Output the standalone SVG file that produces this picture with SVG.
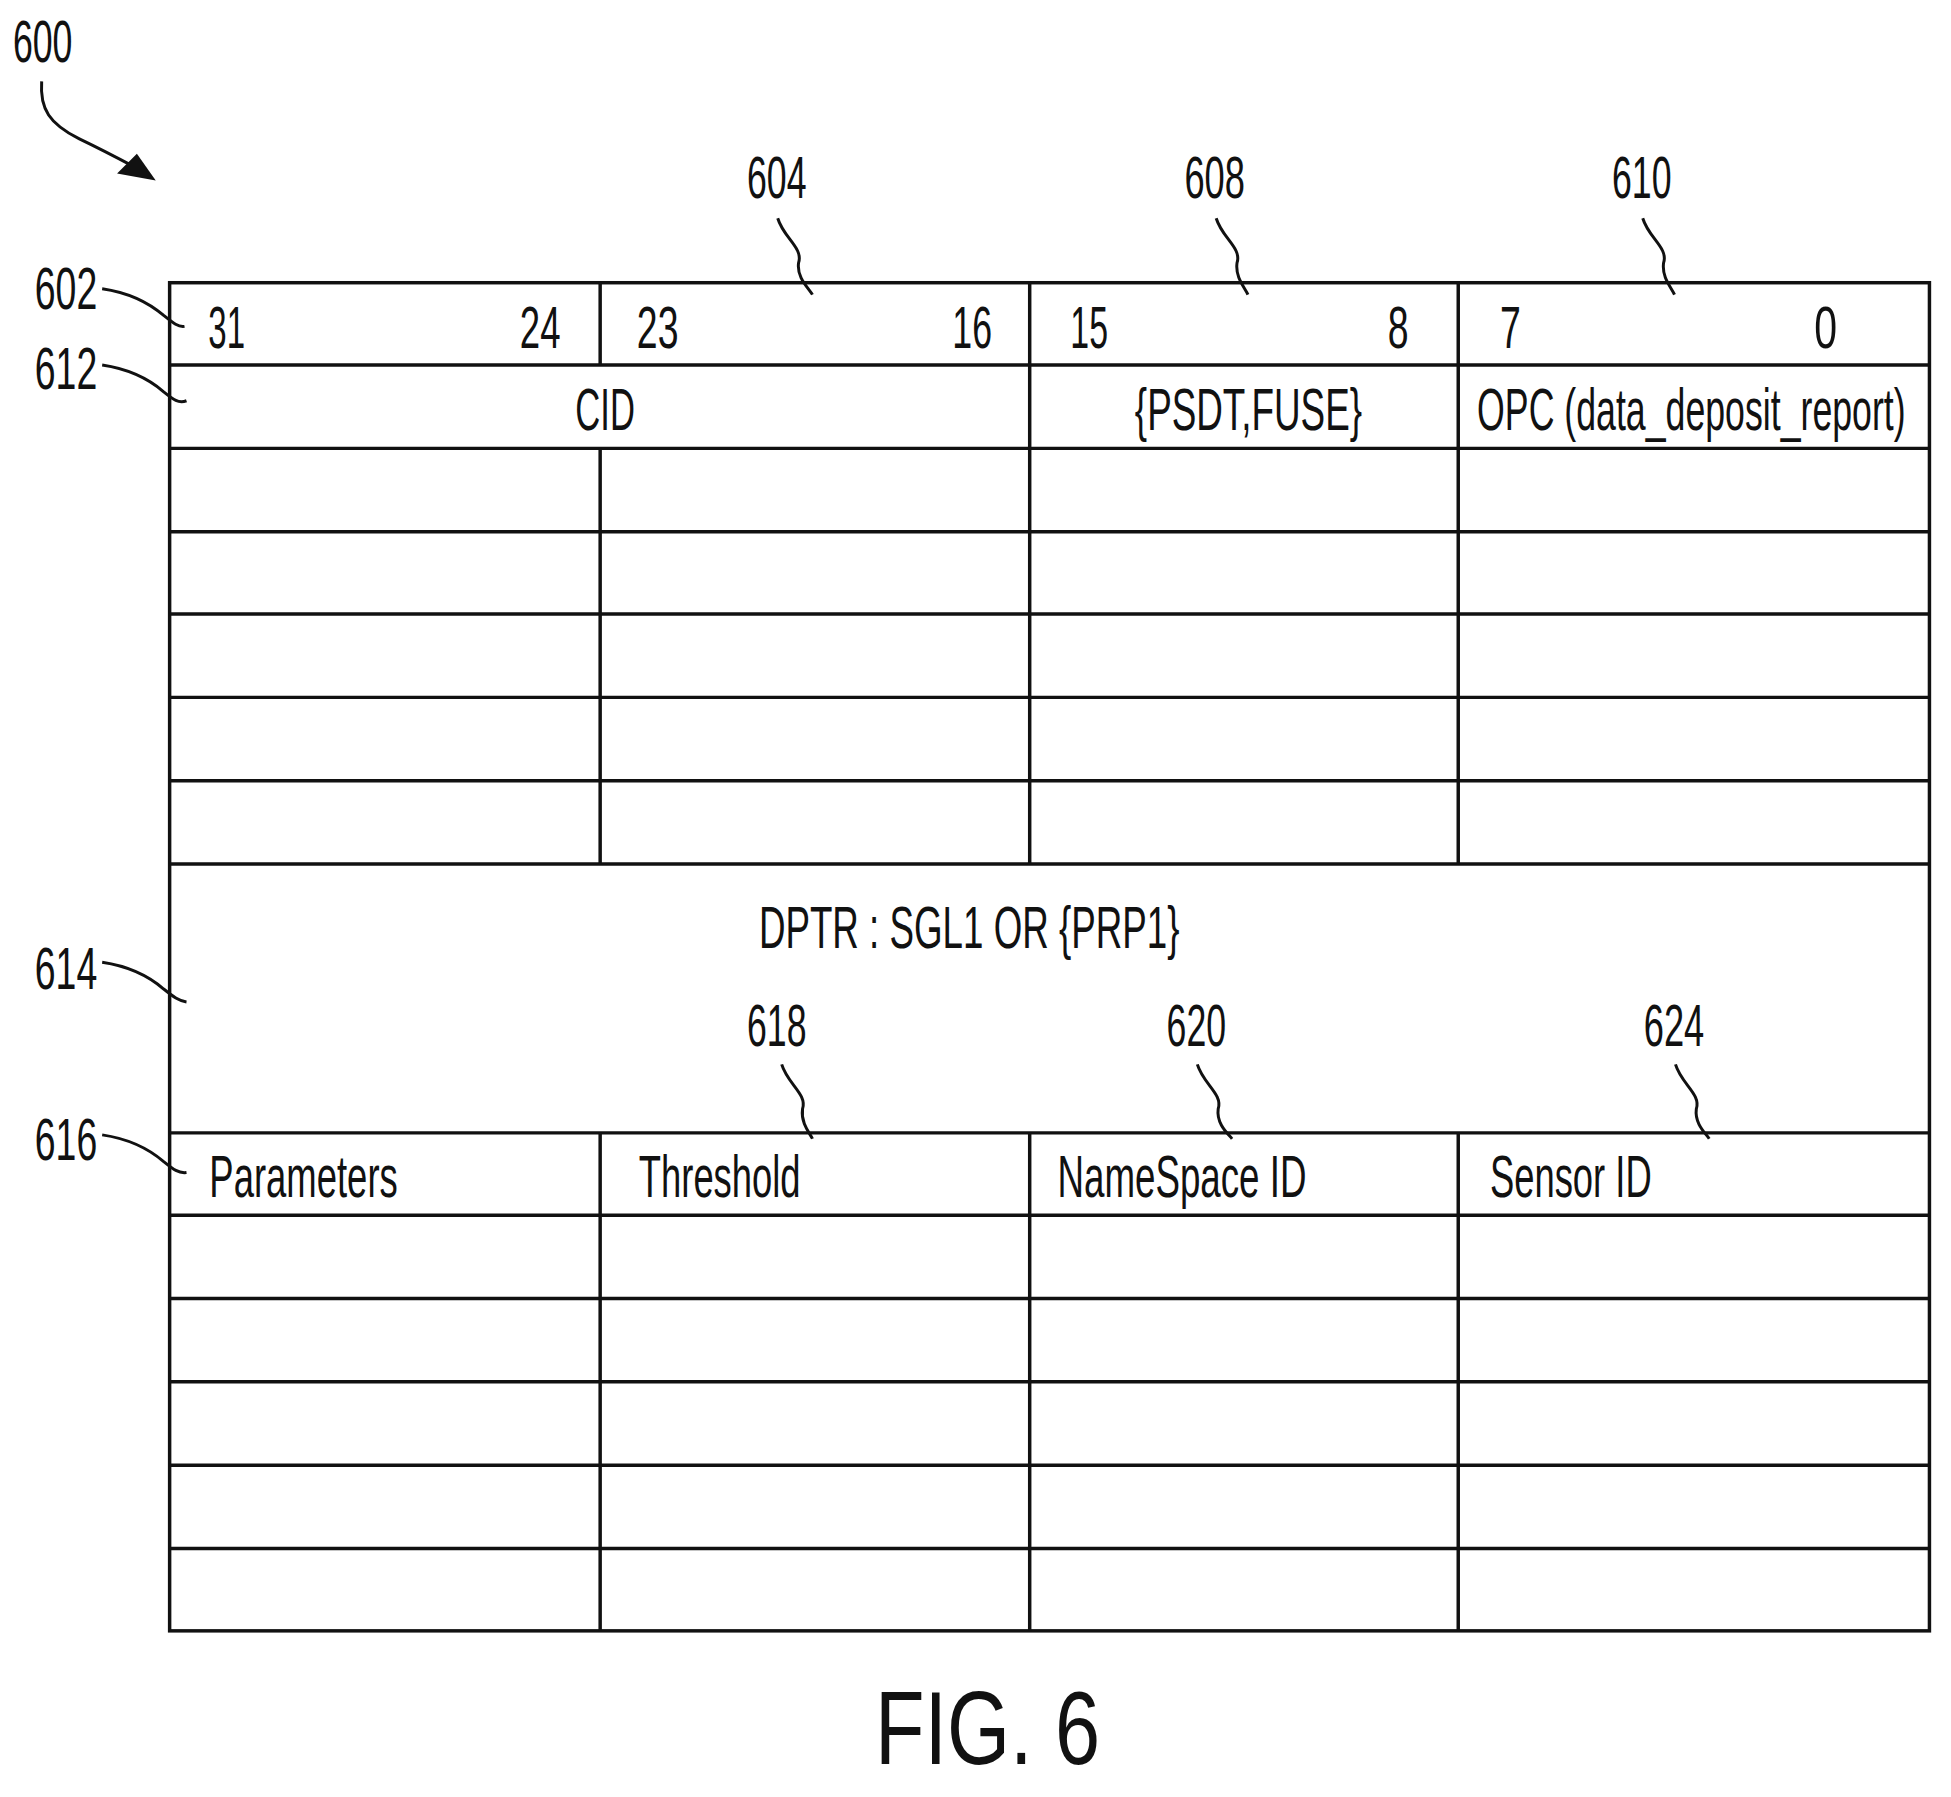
<svg xmlns="http://www.w3.org/2000/svg" width="1951" height="1797" viewBox="0 0 1951 1797">
<style>
.t{font-family:"Liberation Sans",Arial,sans-serif;font-size:60px;fill:#111}
.f{font-family:"Liberation Sans",Arial,sans-serif;font-size:104px;fill:#111}
.g line,.g rect{stroke:#111;stroke-width:3.5;fill:none}
.ld path{stroke:#111;stroke-width:3;fill:none}
</style>
<rect width="1951" height="1797" fill="#fff"/>
<g transform="scale(0.992)">
<g id="table" class="g">
<rect x="171" y="285" width="1774" height="1359"/>
<line x1="171" y1="368" x2="1945" y2="368"/>
<line x1="171" y1="452" x2="1945" y2="452"/>
<line x1="171" y1="536" x2="1945" y2="536"/>
<line x1="171" y1="619" x2="1945" y2="619"/>
<line x1="171" y1="703" x2="1945" y2="703"/>
<line x1="171" y1="787" x2="1945" y2="787"/>
<line x1="171" y1="871" x2="1945" y2="871"/>
<line x1="171" y1="1142" x2="1945" y2="1142"/>
<line x1="171" y1="1225" x2="1945" y2="1225"/>
<line x1="171" y1="1309" x2="1945" y2="1309"/>
<line x1="171" y1="1393" x2="1945" y2="1393"/>
<line x1="171" y1="1477" x2="1945" y2="1477"/>
<line x1="171" y1="1561" x2="1945" y2="1561"/>
<line x1="605" y1="285" x2="605" y2="368"/>
<line x1="1038" y1="285" x2="1038" y2="871"/>
<line x1="1470" y1="285" x2="1470" y2="871"/>
<line x1="605" y1="452" x2="605" y2="871"/>
<line x1="605" y1="1142" x2="605" y2="1644"/>
<line x1="1038" y1="1142" x2="1038" y2="1644"/>
<line x1="1470" y1="1142" x2="1470" y2="1644"/>
</g>
<g id="cells">
<text class="t" x="210" y="351" textLength="37" lengthAdjust="spacingAndGlyphs">31</text>
<text class="t" x="524" y="351" textLength="41" lengthAdjust="spacingAndGlyphs">24</text>
<text class="t" x="642" y="351" textLength="42" lengthAdjust="spacingAndGlyphs">23</text>
<text class="t" x="960" y="351" textLength="40" lengthAdjust="spacingAndGlyphs">16</text>
<text class="t" x="1079" y="351" textLength="38" lengthAdjust="spacingAndGlyphs">15</text>
<text class="t" x="1399" y="351" textLength="21" lengthAdjust="spacingAndGlyphs">8</text>
<text class="t" x="1512" y="351" textLength="21" lengthAdjust="spacingAndGlyphs">7</text>
<text class="t" x="1829" y="351" textLength="23" lengthAdjust="spacingAndGlyphs">0</text>
<text class="t" x="580" y="433" textLength="60" lengthAdjust="spacingAndGlyphs">CID</text>
<text class="t" x="1144" y="433" textLength="229" lengthAdjust="spacingAndGlyphs">{PSDT,FUSE}</text>
<text class="t" x="1489" y="433" textLength="432" lengthAdjust="spacingAndGlyphs">OPC (data_deposit_report)</text>
<text class="t" x="765" y="956" textLength="424" lengthAdjust="spacingAndGlyphs">DPTR : SGL1 OR {PRP1}</text>
<text class="t" x="211" y="1207" textLength="190" lengthAdjust="spacingAndGlyphs">Parameters</text>
<text class="t" x="644" y="1207" textLength="163" lengthAdjust="spacingAndGlyphs">Threshold</text>
<text class="t" x="1066" y="1207" textLength="251" lengthAdjust="spacingAndGlyphs">NameSpace ID</text>
<text class="t" x="1502" y="1207" textLength="163" lengthAdjust="spacingAndGlyphs">Sensor ID</text>
</g>
<g id="refs">
<text class="t" x="13" y="63" textLength="60" lengthAdjust="spacingAndGlyphs">600</text>
<text class="t" x="753" y="200" textLength="60" lengthAdjust="spacingAndGlyphs">604</text>
<text class="t" x="1194" y="200" textLength="61" lengthAdjust="spacingAndGlyphs">608</text>
<text class="t" x="1625" y="200" textLength="60" lengthAdjust="spacingAndGlyphs">610</text>
<text class="t" x="35" y="311" textLength="63" lengthAdjust="spacingAndGlyphs">602</text>
<text class="t" x="35" y="392" textLength="63" lengthAdjust="spacingAndGlyphs">612</text>
<text class="t" x="35" y="997" textLength="63" lengthAdjust="spacingAndGlyphs">614</text>
<text class="t" x="35" y="1169" textLength="63" lengthAdjust="spacingAndGlyphs">616</text>
<text class="t" x="753" y="1054" textLength="60" lengthAdjust="spacingAndGlyphs">618</text>
<text class="t" x="1176" y="1054" textLength="60" lengthAdjust="spacingAndGlyphs">620</text>
<text class="t" x="1657" y="1054" textLength="61" lengthAdjust="spacingAndGlyphs">624</text>
<text class="f" x="882" y="1778" textLength="227" lengthAdjust="spacingAndGlyphs">FIG. 6</text>
</g>
<g id="connectors" class="ld">
<path d="M42 82 C40 110 50 125 80 140 C105 152 120 160 135 168"/>
<polygon points="118,175 138,155 157,182" fill="#111"/>
<path d="M784 220 C790 240 810 250 805 265 C803 280 815 290 819 297"/>
<path d="M1226 220 C1232 240 1252 250 1247 265 C1245 280 1255 290 1258 297"/>
<path d="M1656 220 C1662 240 1682 250 1677 265 C1675 280 1685 290 1688 297"/>
<path d="M103 291 C130 295 150 305 165 318 C175 326 180 330 186 329"/>
<path d="M103 368 C130 372 150 382 165 395 C175 403 180 407 188 404"/>
<path d="M103 970 C130 974 150 984 165 997 C175 1005 180 1009 188 1010"/>
<path d="M103 1144 C130 1148 150 1158 165 1171 C175 1179 180 1183 188 1182"/>
<path d="M788 1073 C794 1093 814 1103 809 1118 C807 1133 817 1143 819 1148"/>
<path d="M1207 1073 C1213 1093 1233 1103 1228 1118 C1226 1133 1238 1143 1242 1148"/>
<path d="M1689 1073 C1695 1093 1715 1103 1710 1118 C1708 1133 1720 1143 1723 1148"/>
</g>
</g>
</svg>
